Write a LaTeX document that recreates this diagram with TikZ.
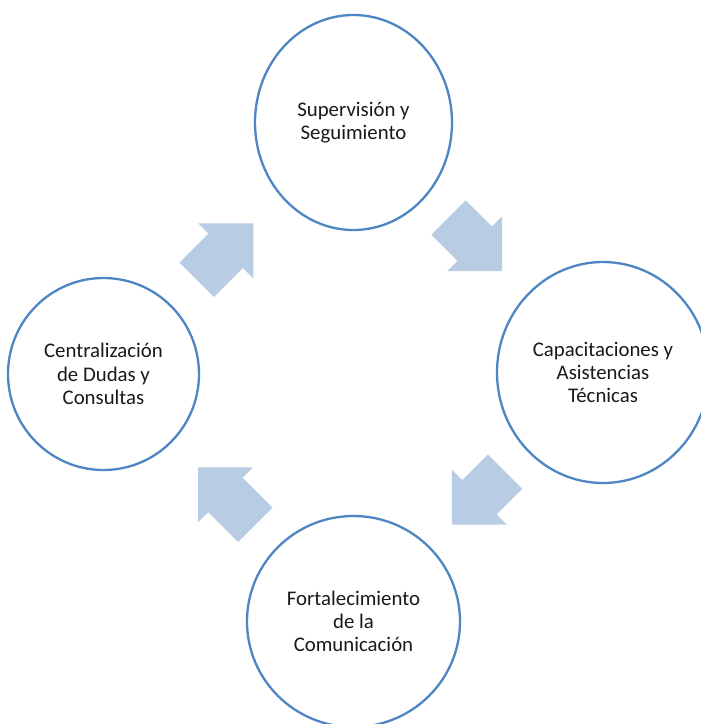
\documentclass[tikz,border=0pt]{standalone}
\usepackage{fontspec}
\setmainfont{Carlito}
\usetikzlibrary{shapes.geometric}
\definecolor{ringblue}{HTML}{4E86C4}
\definecolor{arrowblue}{HTML}{B8CCE4}
\tikzset{
  stage/.style={ellipse, draw=ringblue, line width=2.3pt, fill=white, inner sep=0pt,
    align=center, text=black!90, font=\fontsize{20.8}{23.3}\selectfont},
  blockarrow/.pic={
    \fill[arrowblue] (0,-24.3) -- (#1-38.9,-24.3) -- (#1-38.9,-38.9) -- (#1,0)
      -- (#1-38.9,38.9) -- (#1-38.9,24.3) -- (0,24.3) -- cycle;
  }
}
\begin{document}
\begin{tikzpicture}[x=1pt,y=-1pt]
\useasboundingbox (0,0) rectangle (701,724);
\clip (0,0) rectangle (701,724);
\fill[white] (0,0) rectangle (701,724);
% stages
\node[stage, minimum width=197pt, minimum height=215pt] (sup) at (353.5,122.5) {Supervisión y\\Seguimiento};
\node[stage, minimum width=212pt, minimum height=221pt] (cap) at (603,372.5) {Capacitaciones y\\Asistencias\\Técnicas};
\node[stage, minimum width=213pt, minimum height=211pt] (fort) at (353.5,621.5) {Fortalecimiento\\de la\\Comunicación};
\node[stage, minimum width=191pt, minimum height=192pt] (cent) at (103.5,374) {Centralización\\de Dudas y\\Consultas};
% cycle arrows
\coordinate (a1) at (196.7,279.9);
\coordinate (a2) at (448.5,217.5);
\coordinate (a3) at (505,471.7);
\coordinate (a4) at (255.3,524.7);
\pic[rotate=45] at (a1) {blockarrow=80};
\pic[rotate=-45] at (a2) {blockarrow=76};
\pic[rotate=-135] at (a3) {blockarrow=75};
\pic[rotate=135] at (a4) {blockarrow=81};
\end{tikzpicture}
\end{document}
